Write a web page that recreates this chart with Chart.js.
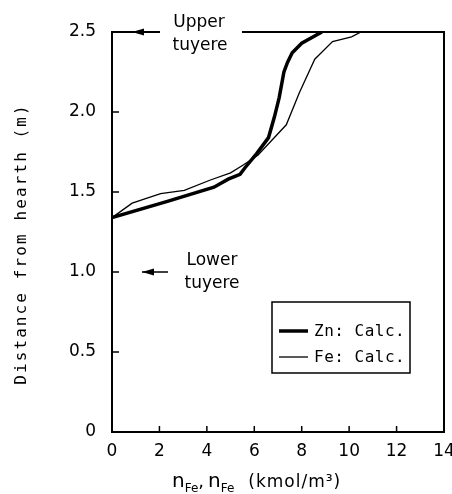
<!DOCTYPE html>
<html>
<head>
<meta charset="utf-8">
<script src="https://cdn.jsdelivr.net/npm/chart.js@4.4.1/dist/chart.umd.min.js"></script>
<style>
  html, body { margin: 0; padding: 0; background: #fff; }
  #wrap { width: 452px; height: 494px; }
</style>
</head>
<body>
<div id="wrap"><canvas id="chart" width="452" height="494"></canvas></div>
<script>
// Zn profile (thick line)
const ZN_X = [0, 2.3, 4.3, 4.9, 5.4, 5.6, 6.1, 6.6, 6.85, 7.05, 7.25, 7.4, 7.6, 8.0, 8.85];
const ZN_Y = [1.34, 1.44, 1.53, 1.58, 1.61, 1.65, 1.74, 1.84, 1.97, 2.09, 2.25, 2.31, 2.37, 2.43, 2.5];
// Fe profile (thin line)
const FE_X = [0, 0.85, 2.05, 3.05, 4.15, 5.0, 5.55, 6.15, 7.35, 7.9, 8.55, 9.3, 10.1, 10.5];
const FE_Y = [1.34, 1.43, 1.49, 1.51, 1.575, 1.62, 1.67, 1.73, 1.92, 2.12, 2.33, 2.44, 2.47, 2.5];

const SERIES_LABELS = ["Zn: Calc.", "Fe: Calc."];
const X_MIN = 0, X_MAX = 14, X_STEP = 2;
const Y_MIN = 0, Y_MAX = 2.5, Y_STEP = 0.5;
const UPPER_TUYERE = 2.5;
const LOWER_TUYERE = 1.0;

const toPoints = (xs, ys) => xs.map((x, i) => ({ x, y: ys[i] }));

const SANS = "'DejaVu Sans', sans-serif";
const MONO = "'DejaVu Sans Mono', monospace";

function arrowLeft(ctx, tipX, y) {
  ctx.beginPath();
  ctx.moveTo(tipX, y);
  ctx.lineTo(tipX + 12, y - 3.5);
  ctx.lineTo(tipX + 12, y + 3.5);
  ctx.closePath();
  ctx.fill();
}

const framePlugin = {
  id: "frame",
  afterDraw(chart) {
    const { ctx, chartArea: a, scales } = chart;
    const xs = scales.x, ys = scales.y;
    ctx.save();
    ctx.strokeStyle = "#000";
    ctx.fillStyle = "#000";
    ctx.lineWidth = 2;

    // right border and broken top border (gap for the label)
    ctx.beginPath();
    ctx.moveTo(a.right, a.bottom);
    ctx.lineTo(a.right, a.top);
    ctx.lineTo(a.left + 130, a.top);
    ctx.moveTo(a.left + 48, a.top);
    ctx.lineTo(a.left, a.top);
    ctx.stroke();

    // inward tick marks
    ctx.lineWidth = 1.5;
    ctx.beginPath();
    ys.ticks.forEach((t) => {
      if (t.value <= Y_MIN || t.value >= Y_MAX) return;
      const py = ys.getPixelForValue(t.value);
      ctx.moveTo(a.left, py);
      ctx.lineTo(a.left + 7, py);
    });
    xs.ticks.forEach((t) => {
      if (t.value <= X_MIN || t.value >= X_MAX) return;
      const px = xs.getPixelForValue(t.value);
      ctx.moveTo(px, a.bottom);
      ctx.lineTo(px, a.bottom - 6);
    });
    ctx.stroke();

    // tuyere arrows
    const yUp = ys.getPixelForValue(UPPER_TUYERE);
    arrowLeft(ctx, a.left + 20, yUp);
    const yLow = ys.getPixelForValue(LOWER_TUYERE);
    ctx.lineWidth = 1.5;
    ctx.beginPath();
    ctx.moveTo(a.left + 30, yLow);
    ctx.lineTo(a.left + 56, yLow);
    ctx.stroke();
    arrowLeft(ctx, a.left + 30, yLow);

    ctx.font = "17px " + SANS;
    ctx.textAlign = "center";
    ctx.textBaseline = "middle";
    ctx.fillText("Upper", a.left + 87, yUp - 9);
    ctx.fillText("tuyere", a.left + 88, yUp + 14);
    ctx.fillText("Lower", a.left + 100, yLow - 11);
    ctx.fillText("tuyere", a.left + 100, yLow + 12);

    // legend box
    const lx = a.left + 160, ly = 302, lw = 138, lh = 71;
    ctx.lineWidth = 1.5;
    ctx.strokeRect(lx, ly, lw, lh);
    const ds = chart.data.datasets;
    ctx.font = "16px " + MONO;
    ctx.letterSpacing = "0.5px";
    ctx.textAlign = "left";
    ds.forEach((d, i) => {
      const yy = ly + 29 + i * 26;
      ctx.lineWidth = d.borderWidth;
      ctx.beginPath();
      ctx.moveTo(lx + 7, yy);
      ctx.lineTo(lx + 36, yy);
      ctx.stroke();
      ctx.fillText(d.label, lx + 42, yy + 1);
    });

    // x-axis title with subscripts
    ctx.letterSpacing = "0px";
    ctx.textBaseline = "alphabetic";
    let x = a.left + 60;
    const base = 487;
    const part = (txt, font, dy, gap) => {
      ctx.font = font;
      ctx.fillText(txt, x, base + dy);
      x += ctx.measureText(txt).width + (gap || 0);
    };
    part("n", "20px " + SANS, 0);
    part("Fe", "12px " + SANS, 5);
    part(",", "18px " + SANS, 0, 4);
    part("n", "20px " + SANS, 0);
    part("Fe", "12px " + SANS, 5, 14);
    ctx.letterSpacing = "1px";
    part("(kmol/m³)", "17px " + SANS, 0);

    // y-axis title
    ctx.translate(22, (a.top + a.bottom) / 2 + 12);
    ctx.rotate(-Math.PI / 2);
    ctx.font = "16px " + MONO;
    ctx.letterSpacing = "2.1px";
    ctx.textAlign = "center";
    ctx.textBaseline = "middle";
    ctx.fillText("Distance from hearth (m)", 0, 0);
    ctx.restore();
  }
};

new Chart(document.getElementById("chart"), {
  type: "line",
  data: {
    datasets: [
      {
        label: SERIES_LABELS[0],
        data: toPoints(ZN_X, ZN_Y),
        borderColor: "#000",
        borderWidth: 3.5,
        pointRadius: 0,
        tension: 0,
        fill: false
      },
      {
        label: SERIES_LABELS[1],
        data: toPoints(FE_X, FE_Y),
        borderColor: "#000",
        borderWidth: 1.3,
        pointRadius: 0,
        tension: 0,
        fill: false
      }
    ]
  },
  options: {
    responsive: false,
    animation: false,
    layout: { padding: { left: 0, right: 8, top: 32, bottom: 0 } },
    plugins: { legend: { display: false }, tooltip: { enabled: false } },
    scales: {
      x: {
        type: "linear",
        min: X_MIN,
        max: X_MAX,
        ticks: { stepSize: X_STEP, padding: 9, color: "#000", font: { family: SANS, size: 17 }, maxRotation: 0 },
        grid: { drawOnChartArea: false, drawTicks: false },
        border: { display: true, color: "#000", width: 2 },
        afterFit: (s) => { s.height = 62; s.paddingLeft = 0; s.paddingRight = 0; }
      },
      y: {
        min: Y_MIN,
        max: Y_MAX,
        ticks: {
          stepSize: Y_STEP,
          padding: 16,
          color: "#000",
          font: { family: SANS, size: 17 },
          callback: (v) => (v === 0 ? "0" : v.toFixed(1))
        },
        grid: { drawOnChartArea: false, drawTicks: false },
        border: { display: true, color: "#000", width: 2 },
        afterFit: (s) => { s.width = 112; s.paddingTop = 0; s.paddingBottom = 0; }
      }
    }
  },
  plugins: [framePlugin]
});
</script>
</body>
</html>
